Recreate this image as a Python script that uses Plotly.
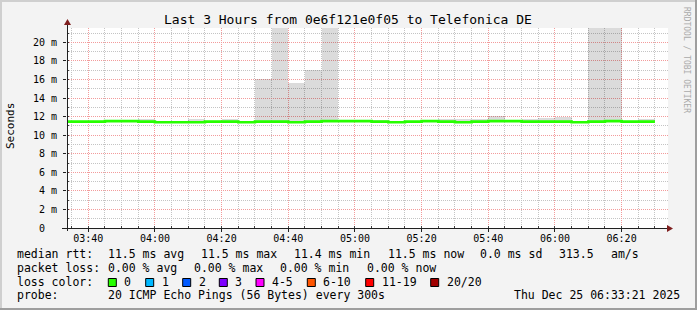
import plotly.graph_objects as go
import pandas as pd

# ---------------- data ----------------
bucket_start = pd.date_range("2025-12-25 03:30:00", periods=36, freq="5min")
bucket_end = pd.Timestamp("2025-12-25 06:30:00")

median_ms = [11.46, 11.46, 11.46, 11.52, 11.52, 11.46, 11.40, 11.40, 11.40, 11.46,
             11.46, 11.40, 11.46, 11.46, 11.40, 11.46, 11.52, 11.52, 11.52, 11.46,
             11.40, 11.46, 11.52, 11.46, 11.40, 11.46, 11.52, 11.52, 11.46, 11.46,
             11.46, 11.40, 11.46, 11.52, 11.46, 11.46]

smoke_min_ms = [11.40, 11.40, 11.40, 11.42, 11.42, 11.40, 11.38, 11.38, 11.38, 11.40,
                11.40, 11.38, 11.40, 11.40, 11.38, 11.40, 11.42, 11.42, 11.42, 11.40,
                11.38, 11.40, 11.42, 11.40, 11.38, 11.40, 11.42, 11.42, 11.40, 11.40,
                11.40, 11.38, 11.40, 11.42, 11.40, 11.40]

smoke_max_ms = [11.46, 11.46, 11.46, 11.52, 11.52, 11.78, 11.40, 11.40, 11.78, 11.46,
                11.71, 11.40, 16.02, 24.00, 15.66, 17.03, 24.00, 11.52, 11.52, 11.67,
                11.40, 11.46, 11.52, 11.78, 11.78, 11.78, 12.04, 11.52, 11.70, 11.87,
                12.00, 11.55, 24.00, 24.00, 11.46, 11.78]

y_tick_vals = [0, 2, 4, 6, 8, 10, 12, 14, 16, 18, 20]
y_tick_text = ["0\u00a0\u00a0", "2 m", "4 m", "6 m", "8 m", "10 m", "12 m",
               "14 m", "16 m", "18 m", "20 m"]

title_text = "Last 3 Hours from 0e6f121e0f05 to Telefonica DE"

stat_rows = [
    ("median rtt:", [(107.3, "11.5 ms avg"), (200, "11.5 ms max"), (293.3, "11.4 ms min"),
                     (386.7, "11.5 ms now"), (479.3, "0.0 ms sd"), (558.3, "313.5"),
                     (610, "am/s")]),
    ("packet loss:", [(107.3, "0.00 % avg"), (193.3, "0.00 % max"), (279.3, "0.00 % min"),
                      (366, "0.00 % now")]),
    ("loss color:", []),
    ("probe:", [(107.3, "20 ICMP Echo Pings (56 Bytes) every 300s"),
                (513.3, "Thu Dec 25 06:33:21 2025")]),
]
loss_labels = ["0", "1", "2", "3", "4-5", "6-10", "11-19", "20/20"]
loss_colors = ["#26ff00", "#00b8ff", "#0059ff", "#7e00ff", "#ff00ff", "#ff5500", "#ff0000", "#a10000"]
loss_box_x = [108.3, 145.7, 182.7, 219.3, 256, 307.3, 365.7, 430.7]

# ---------------- geometry ----------------
W, H = 697, 310
L, T, PW, PH = 67, 28, 601, 200
FONT = "DejaVu Sans Mono"


def ax(px):
    return (px - L) / PW


def ay(py):
    return (T + PH - py) / PH


fig = go.Figure()

fig.add_trace(go.Bar(
    x=bucket_start,
    y=[mx - mn for mx, mn in zip(smoke_max_ms, smoke_min_ms)],
    base=smoke_min_ms,
    width=300000, offset=0,
    marker=dict(color="rgba(0,0,0,0.14)", line=dict(width=0)),
    hoverinfo="skip", showlegend=False,
))

fig.add_trace(go.Scatter(
    x=list(bucket_start) + [bucket_end],
    y=median_ms + [median_ms[-1]],
    mode="lines", line=dict(color="#26ff00", width=2.6, shape="hv"),
    hoverinfo="skip", showlegend=False,
))

grid_major = "#f39b9b"
grid_minor = "#c4c4c4"

fig.update_layout(
    width=W, height=H, autosize=False,
    margin=dict(l=L, r=W - L - PW, t=T, b=H - T - PH, pad=0),
    paper_bgcolor="#f3f3f3", plot_bgcolor="#ffffff",
    bargap=0,
    font=dict(family=FONT, color="#000000"),
    xaxis=dict(
        type="date",
        range=["2025-12-25 03:33:37", "2025-12-25 06:33:55"],
        tick0="2025-12-25 03:40:00", dtick=1200000, tickformat="%H:%M",
        showgrid=True, gridcolor=grid_major, griddash="1px,1px", gridwidth=1,
        ticks="outside", ticklen=3, tickcolor="#202020", ticklabelstandoff=-2,
        tickfont=dict(family=FONT, size=10, color="#000000"),
        minor=dict(dtick=300000, showgrid=True, gridcolor=grid_minor, griddash="1px,1px",
                   gridwidth=1, ticks="inside", ticklen=2, tickcolor="#404040"),
        showline=False, zeroline=False, fixedrange=True,
    ),
    yaxis=dict(
        range=[0, 21.55],
        tickvals=y_tick_vals, ticktext=y_tick_text,
        showgrid=True, gridcolor=grid_major, griddash="1px,1px", gridwidth=1,
        ticks="outside", ticklen=3, tickcolor="#202020", ticklabelstandoff=4,
        tickfont=dict(family=FONT, size=10, color="#000000"),
        minor=dict(dtick=1, showgrid=True, gridcolor=grid_minor, griddash="1px,1px",
                   gridwidth=1, ticks="inside", ticklen=2, tickcolor="#404040"),
        showline=False, zeroline=False, fixedrange=True,
    ),
)

shapes = []
# frame shading
shapes.append(dict(type="rect", xref="paper", yref="paper", x0=ax(0), x1=ax(W), y0=ay(0), y1=ay(2),
                   fillcolor="#cfcfcf", line=dict(width=0), layer="below"))
shapes.append(dict(type="rect", xref="paper", yref="paper", x0=ax(0), x1=ax(2), y0=ay(0), y1=ay(H),
                   fillcolor="#cfcfcf", line=dict(width=0), layer="below"))
shapes.append(dict(type="rect", xref="paper", yref="paper", x0=ax(0), x1=ax(W), y0=ay(H - 2), y1=ay(H),
                   fillcolor="#9e9e9e", line=dict(width=0), layer="below"))
shapes.append(dict(type="rect", xref="paper", yref="paper", x0=ax(W - 2), x1=ax(W), y0=ay(0), y1=ay(H),
                   fillcolor="#9e9e9e", line=dict(width=0), layer="below"))
# axes lines
shapes.append(dict(type="line", xref="paper", yref="paper", x0=ax(62), x1=ax(670), y0=ay(228.5), y1=ay(228.5),
                   line=dict(color="#202020", width=1)))
shapes.append(dict(type="line", xref="paper", yref="paper", x0=ax(67.5), x1=ax(67.5), y0=ay(231), y1=ay(22),
                   line=dict(color="#202020", width=1)))
# arrows
shapes.append(dict(type="path", xref="paper", yref="paper",
                   path=f"M {ax(667)} {ay(225)} L {ax(673)} {ay(228.5)} L {ax(667)} {ay(232)} Z",
                   fillcolor="#7f1f1f", line=dict(color="#7f1f1f", width=0)))
shapes.append(dict(type="path", xref="paper", yref="paper",
                   path=f"M {ax(64)} {ay(25)} L {ax(67.5)} {ay(19)} L {ax(71)} {ay(25)} Z",
                   fillcolor="#7f1f1f", line=dict(color="#7f1f1f", width=0)))
# loss color boxes
for bx, col in zip(loss_box_x, loss_colors):
    shapes.append(dict(type="rect", xref="paper", yref="paper", x0=ax(bx), x1=ax(bx + 8),
                       y0=ay(278.5), y1=ay(286.5), fillcolor=col, line=dict(color="#000000", width=1)))
fig.update_layout(shapes=shapes)

ann = []
ann.append(dict(text=title_text, x=ax(347.5), y=ay(19), xref="paper", yref="paper",
                xanchor="center", yanchor="middle", showarrow=False,
                font=dict(family=FONT, size=13, color="#000000")))
ann.append(dict(text="Seconds", x=ax(10), y=ay(126), xref="paper", yref="paper",
                xanchor="center", yanchor="middle", showarrow=False, textangle=-90,
                font=dict(family=FONT, size=11, color="#000000")))
ann.append(dict(text="RRDTOOL / TOBI OETIKER", x=ax(687), y=ay(60), xref="paper", yref="paper",
                xanchor="center", yanchor="middle", showarrow=False, textangle=90,
                font=dict(family=FONT, size=8, color="#aaaaaa")))

row_y = [254.3, 267.7, 281.5, 295]
LEG = 11.5
for (label, items), yy in zip(stat_rows, row_y):
    ann.append(dict(text=label, x=ax(16), y=ay(yy), xref="paper", yref="paper",
                    xanchor="left", yanchor="middle", showarrow=False, borderpad=0,
                    font=dict(family=FONT, size=LEG, color="#000000")))
    for xx, txt in items:
        ann.append(dict(text=txt, x=ax(xx), y=ay(yy), xref="paper", yref="paper",
                        xanchor="left", yanchor="middle", showarrow=False, borderpad=0,
                        font=dict(family=FONT, size=LEG, color="#000000")))
for bx, lab in zip(loss_box_x, loss_labels):
    ann.append(dict(text=lab, x=ax(bx + 15), y=ay(row_y[2]), xref="paper", yref="paper",
                    xanchor="left", yanchor="middle", showarrow=False, borderpad=0,
                    font=dict(family=FONT, size=LEG, color="#000000")))
fig.update_layout(annotations=ann)

fig.write_html("out.html", config={"displayModeBar": False})
